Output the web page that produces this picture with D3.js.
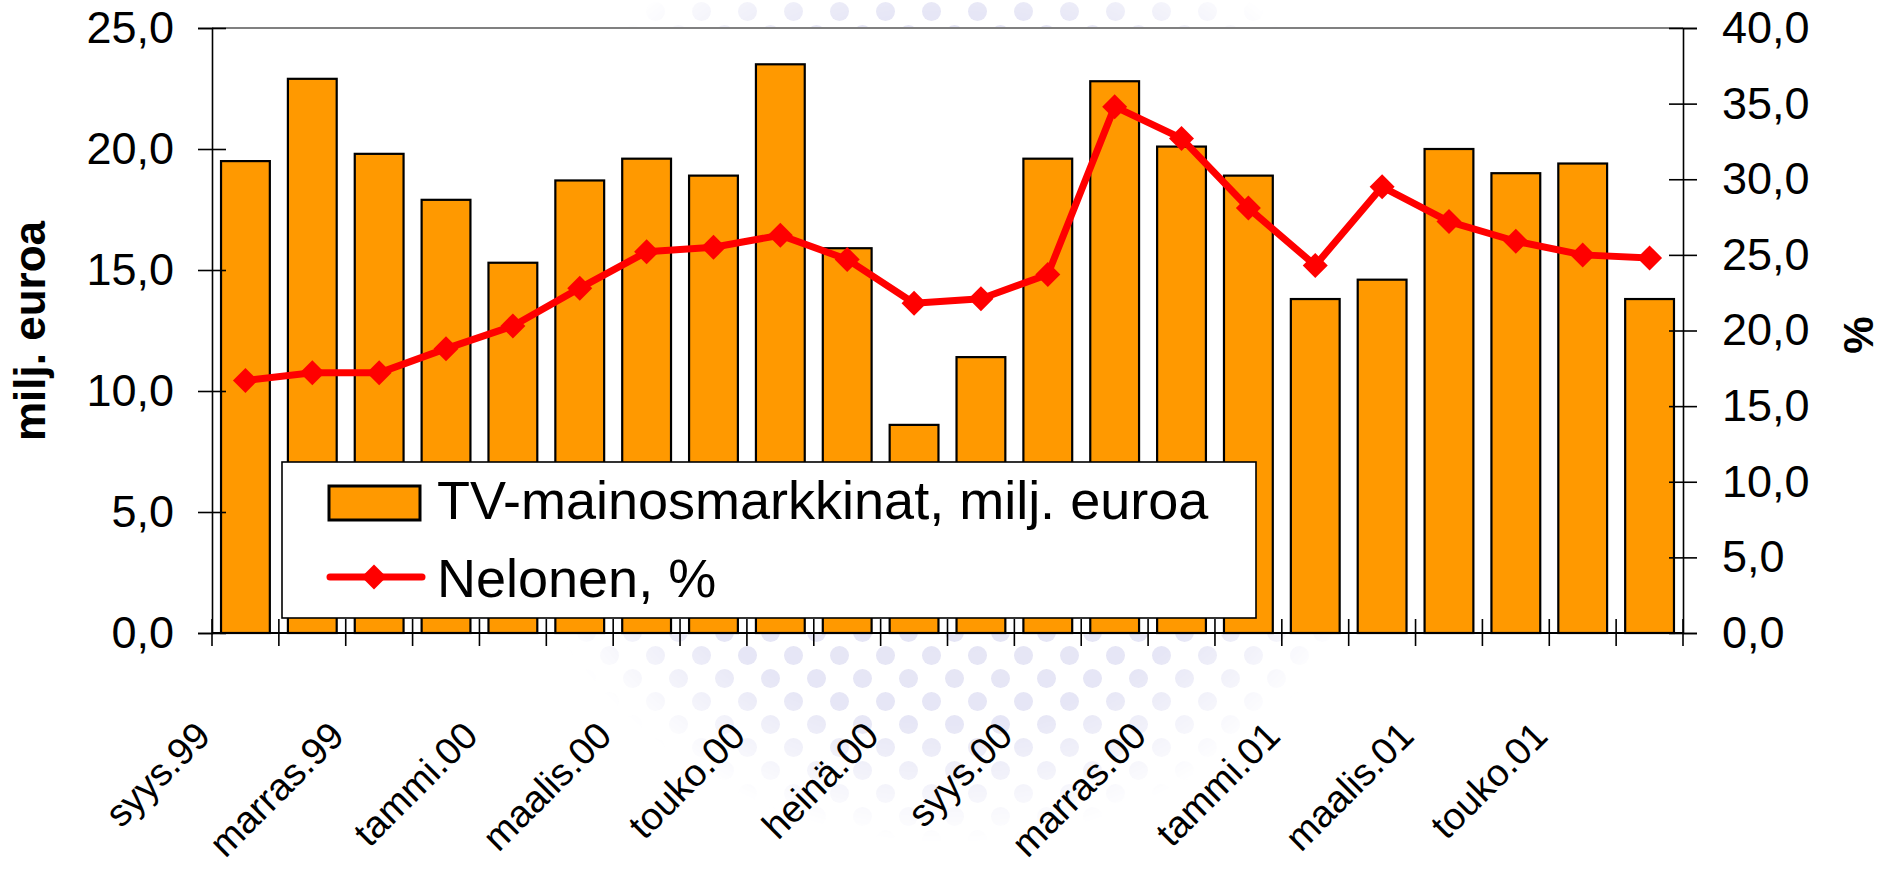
<!DOCTYPE html>
<html>
<head>
<meta charset="utf-8">
<script src="https://cdn.jsdelivr.net/npm/d3@7"></script>
<style>
  html, body { margin: 0; padding: 0; background: #ffffff; }
  svg { display: block; }
  text { font-family: "Liberation Sans", Arial, sans-serif; fill: #000; }
</style>
</head>
<body>
<svg id="chart" width="1894" height="869"></svg>
<script>
// ---------- data ----------
const categories = ["syys.99","loka.99","marras.99","joulu.99","tammi.00","helmi.00","maalis.00","huhti.00",
  "touko.00","kesä.00","heinä.00","elo.00","syys.00","loka.00","marras.00","joulu.00",
  "tammi.01","helmi.01","maalis.01","huhti.01","touko.01","kesä.01"];
const tvMarket = [19.5, 22.9, 19.8, 17.9, 15.3, 18.7, 19.6, 18.9, 23.5, 15.9, 8.6, 11.4,
  19.6, 22.8, 20.1, 18.9, 13.8, 14.6, 20.0, 19.0, 19.4, 13.8];
const nelonenShare = [16.7, 17.2, 17.2, 18.8, 20.3, 22.8, 25.2, 25.5, 26.3, 24.7, 21.8, 22.1,
  23.7, 34.8, 32.7, 28.1, 24.3, 29.5, 27.2, 25.9, 25.0, 24.8];
const leftTicks = [0, 5, 10, 15, 20, 25];
const rightTicks = [0, 5, 10, 15, 20, 25, 30, 35, 40];
const labelledCategories = ["syys.99","marras.99","tammi.00","maalis.00","touko.00","heinä.00",
  "syys.00","marras.00","tammi.01","maalis.01","touko.01"];
const seriesNames = ["TV-mainosmarkkinat, milj. euroa", "Nelonen, %"];
const leftTitle = "milj. euroa";
const rightTitle = "%";

// ---------- layout ----------
const plot = { left: 212, right: 1683, top: 28, bottom: 633 };
const ORANGE = "#FF9900", RED = "#FF0000";
const fmt = v => d3.format(".1f")(v).replace(".", ",");

const svg = d3.select("#chart");

// faint background watermark (slide decoration)
const defs = svg.append("defs");
const pat = defs.append("pattern").attr("id", "dots").attr("patternUnits", "userSpaceOnUse")
  .attr("width", 46).attr("height", 46);
pat.append("circle").attr("cx", 11.5).attr("cy", 11.5).attr("r", 9.5).attr("fill", "#E2E2F4");
pat.append("circle").attr("cx", 34.5).attr("cy", 34.5).attr("r", 9.5).attr("fill", "#E2E2F4");
const rg = defs.append("radialGradient").attr("id", "fade");
rg.append("stop").attr("offset", "0%").attr("stop-color", "#fff").attr("stop-opacity", 1);
rg.append("stop").attr("offset", "75%").attr("stop-color", "#fff").attr("stop-opacity", 0.85);
rg.append("stop").attr("offset", "100%").attr("stop-color", "#fff").attr("stop-opacity", 0);
const mask = defs.append("mask").attr("id", "wmask");
mask.append("circle").attr("cx", 950).attr("cy", 368).attr("r", 476).attr("fill", "url(#fade)");
svg.append("circle").attr("cx", 950).attr("cy", 368).attr("r", 476)
  .attr("fill", "url(#dots)").attr("mask", "url(#wmask)");

// plot area
svg.append("rect").attr("x", plot.left).attr("y", plot.top)
  .attr("width", plot.right - plot.left).attr("height", plot.bottom - plot.top)
  .attr("fill", "#ffffff");
svg.append("line").attr("x1", plot.left).attr("x2", plot.right)
  .attr("y1", plot.top).attr("y2", plot.top)
  .attr("stroke", "#808080").attr("stroke-width", 2);

// scales
const x = d3.scaleBand().domain(categories).range([plot.left, plot.right])
  .paddingInner(0.27).paddingOuter(0.135);
const yL = d3.scaleLinear().domain([0, 25]).range([plot.bottom, plot.top]);
const yR = d3.scaleLinear().domain([0, 40]).range([plot.bottom, plot.top]);

// bars
svg.append("g").selectAll("rect").data(tvMarket).join("rect")
  .attr("x", (d, i) => x(categories[i]))
  .attr("y", d => yL(d))
  .attr("width", x.bandwidth())
  .attr("height", d => yL(0) - yL(d))
  .attr("fill", ORANGE).attr("stroke", "#000").attr("stroke-width", 2.2);

// left axis
const axL = svg.append("g").attr("transform", `translate(${plot.left},0)`)
  .call(d3.axisLeft(yL).tickValues(leftTicks).tickFormat(fmt).tickSize(14).tickPadding(24));
axL.select(".domain").attr("stroke", "#000").attr("stroke-width", 1.6);
axL.selectAll(".tick line").attr("x1", 14).attr("x2", -14).attr("stroke", "#000").attr("stroke-width", 1.6);
axL.selectAll(".tick text").style("font-family", "'Liberation Sans', Arial, sans-serif")
  .style("font-size", "45px").attr("fill", "#000");

// right axis
const axR = svg.append("g").attr("transform", `translate(${plot.right},0)`)
  .call(d3.axisRight(yR).tickValues(rightTicks).tickFormat(fmt).tickSize(14).tickPadding(25));
axR.select(".domain").attr("stroke", "#000").attr("stroke-width", 1.6);
axR.selectAll(".tick line").attr("x1", -14).attr("x2", 14).attr("stroke", "#000").attr("stroke-width", 1.6);
axR.selectAll(".tick text").style("font-family", "'Liberation Sans', Arial, sans-serif")
  .style("font-size", "45px").attr("fill", "#000");

// bottom axis (ticks at category boundaries)
const step = x.step();
const boundaries = d3.range(categories.length + 1).map(i => plot.left + i * step);
const axB = svg.append("g");
axB.append("line").attr("x1", plot.left).attr("x2", plot.right)
  .attr("y1", plot.bottom).attr("y2", plot.bottom)
  .attr("stroke", "#000").attr("stroke-width", 2.2);
axB.selectAll("line.tk").data(boundaries).join("line").attr("class", "tk")
  .attr("x1", d => d).attr("x2", d => d)
  .attr("y1", plot.bottom - 14).attr("y2", plot.bottom + 13)
  .attr("stroke", "#000").attr("stroke-width", 1.6);
axB.selectAll("text").data(labelledCategories).join("text")
  .attr("text-anchor", "end")
  .attr("transform", d => `translate(${x(d) + x.bandwidth() / 2 - 33},738) rotate(-45)`)
  .style("font-size", "38px")
  .text(d => d);

// line series
const cx = i => x(categories[i]) + x.bandwidth() / 2;
const lineGen = d3.line().x((d, i) => cx(i)).y(d => yR(d));
svg.append("path").datum(nelonenShare).attr("d", lineGen)
  .attr("fill", "none").attr("stroke", RED).attr("stroke-width", 7)
  .attr("stroke-linejoin", "round").attr("stroke-linecap", "round");
const diamond = (px, py, r) => `M${px},${py - r}L${px + r},${py}L${px},${py + r}L${px - r},${py}Z`;
svg.append("g").selectAll("path").data(nelonenShare).join("path")
  .attr("d", (d, i) => diamond(cx(i), yR(d), 12.5))
  .attr("fill", RED);

// legend
const lg = svg.append("g");
lg.append("rect").attr("x", 282).attr("y", 462).attr("width", 974).attr("height", 156)
  .attr("fill", "#fff").attr("stroke", "#000").attr("stroke-width", 1.6);
lg.append("rect").attr("x", 329).attr("y", 486).attr("width", 91).attr("height", 34)
  .attr("fill", ORANGE).attr("stroke", "#000").attr("stroke-width", 3);
lg.append("text").attr("x", 437).attr("y", 519).style("font-size", "54px").text(seriesNames[0]);
lg.append("line").attr("x1", 330).attr("x2", 422).attr("y1", 577).attr("y2", 577)
  .attr("stroke", RED).attr("stroke-width", 7).attr("stroke-linecap", "round");
lg.append("path").attr("d", diamond(374, 577, 12.5)).attr("fill", RED);
lg.append("text").attr("x", 437).attr("y", 597).style("font-size", "54px").text(seriesNames[1]);

// axis titles
svg.append("text").attr("transform", "translate(45,331) rotate(-90)")
  .attr("text-anchor", "middle").style("font-size", "44px").style("font-weight", "bold")
  .text(leftTitle);
svg.append("text").attr("transform", "translate(1873,335) rotate(-90)")
  .attr("text-anchor", "middle").style("font-size", "42px").style("font-weight", "bold")
  .text(rightTitle);
</script>
</body>
</html>
